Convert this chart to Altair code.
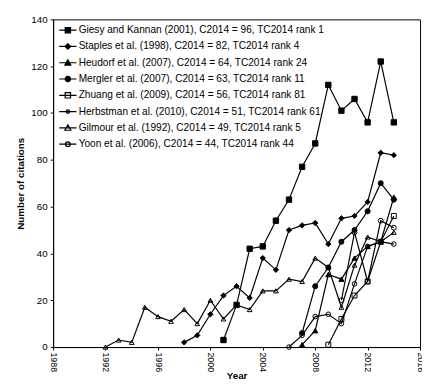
import altair as alt
import pandas as pd

# ---- data ----
series_names = [
    "Giesy and Kannan (2001), C2014 = 96, TC2014 rank 1",
    "Staples et al. (1998), C2014 = 82, TC2014 rank 4",
    "Heudorf et al. (2007), C2014 = 64, TC2014 rank 24",
    "Mergler et al. (2007), C2014 = 63, TC2014 rank 11",
    "Zhuang et al. (2009), C2014 = 56, TC2014 rank 81",
    "Herbstman et al. (2010), C2014 = 51, TC2014 rank 61",
    "Gilmour et al. (1992), C2014 = 49, TC2014 rank 5",
    "Yoon et al. (2006), C2014 = 44, TC2014 rank 44",
]
first_years = [2001, 1998, 2007, 2007, 2009, 2010, 1992, 2006]

giesy = [3, 18, 42, 43, 54, 63, 77, 87, 112, 101, 106, 96, 122, 96]
staples = [2, 5, 14, 22, 26, 21, 38, 33, 50, 52, 53, 44, 55, 56, 62, 83, 82]
heudorf = [1, 7, 31, 29, 38, 43, 45, 64]
mergler = [6, 26, 34, 45, 50, 58, 70, 63]
zhuang = [1, 12, 22, 28, 45, 56]
herbstman = [20, 49, 28, 54, 51]
gilmour = [0, 3, 2, 17, 13, 11, 16, 10, 20, 12, 18, 16, 24, 24, 29, 28, 38, 34, 17, 35, 47, 45, 49]
yoon = [0, 5, 13, 14, 10, 27, 43, 45, 44]

all_values = [giesy, staples, heudorf, mergler, zhuang, herbstman, gilmour, yoon]

x_ticks = list(range(1988, 2017, 2))
y_ticks = list(range(0, 141, 20))

# marker styles
plot_shapes = ["square", "diamond", "triangle-up", "circle", "square", "circle", "triangle-up", "circle"]
plot_sizes = [30, 22, 30, 32, 28, 14, 30, 28]
fills = ["black", "black", "black", "black", "transparent", "transparent", "transparent", "transparent"]

line = "M-1.1,0H1.1"
sq = "M-0.34,-0.34H0.34V0.34H-0.34Z"
dia = "M0,-0.36L0.36,0L0,0.36L-0.36,0Z"
tri = "M0,-0.38L0.38,0.3H-0.38Z"
def circ(r):
    return f"M{-r},0A{r},{r} 0 1,0 {r},0A{r},{r} 0 1,0 {-r},0Z"
legend_shapes = [
    line + sq, line + dia, line + tri, line + circ(0.34),
    line + sq, line + circ(0.22), line + tri, line + circ(0.3),
]
legend_fills = ["black", "black", "black", "black", "white", "white", "white", "white"]
legend_strokes = ["black"] * 8

rows = []
for name, start, vals in zip(series_names, first_years, all_values):
    for i, v in enumerate(vals):
        rows.append({"series": name, "year": start + i, "citations": v})
df = pd.DataFrame(rows)

FONT = "Liberation Sans"

x_enc = alt.X("year:Q", scale=alt.Scale(domain=[1988, 2016], nice=False),
              axis=alt.Axis(values=x_ticks, format="d", labelAngle=90, labelAlign="left",
                            labelBaseline="middle", labelPadding=2, labelFontSize=9,
                            title="Year", titleFontWeight="bold", titleFontSize=10,
                            titlePadding=-1, tickSize=3, grid=False, labelOverlap=False))
y_enc = alt.Y("citations:Q", scale=alt.Scale(domain=[0, 140], nice=False),
              axis=alt.Axis(values=y_ticks, labelFontSize=10, labelPadding=3,
                            title="Number of citations", titleFontWeight="bold", titleFontSize=10,
                            titlePadding=6, tickSize=3, grid=False))

base = alt.Chart(df)

lines = base.mark_line(color="black", strokeWidth=1.2).encode(
    x=x_enc, y=y_enc, detail="series:N"
)

points = base.mark_point(stroke="black", strokeWidth=1, opacity=1).encode(
    x="year:Q", y="citations:Q",
    shape=alt.Shape("series:N", scale=alt.Scale(domain=series_names, range=plot_shapes), legend=None),
    fill=alt.Fill("series:N", scale=alt.Scale(domain=series_names, range=fills), legend=None),
    size=alt.Size("series:N", scale=alt.Scale(domain=series_names, range=plot_sizes), legend=None),
)

def leg():
    return alt.Legend(orient="none", legendX=6, legendY=2, padding=0,
                      symbolSize=256, symbolStrokeWidth=1.2,
                      labelFontSize=10.3, labelLimit=0, labelOffset=2,
                      rowPadding=1.6)

legend_layer = base.transform_filter("false").mark_point(strokeWidth=1.2, opacity=1).encode(
    x="year:Q", y="citations:Q",
    shape=alt.Shape("series:N", scale=alt.Scale(domain=series_names, range=legend_shapes),
                    title=None, legend=leg()),
    fill=alt.Fill("series:N", scale=alt.Scale(domain=series_names, range=legend_fills),
                  title=None, legend=leg()),
    stroke=alt.Stroke("series:N", scale=alt.Scale(domain=series_names, range=legend_strokes),
                      title=None, legend=leg()),
)

chart = alt.layer(lines, points, legend_layer).resolve_scale(
    shape="independent", fill="independent", size="independent", stroke="independent"
).properties(
    width=374, height=334,
    autosize=alt.AutoSizeParams(type="none"),
    padding={"left": 46, "top": 8, "right": 2, "bottom": 31},
    background="white",
).configure_view(
    stroke="black", strokeWidth=1
).configure_axis(
    labelFont=FONT, titleFont=FONT, labelColor="black", titleColor="black",
    domainColor="black", tickColor="black"
).configure_legend(
    labelFont=FONT, labelColor="black"
)

chart.save("out.html", embed_options={"renderer": "svg", "actions": False})
